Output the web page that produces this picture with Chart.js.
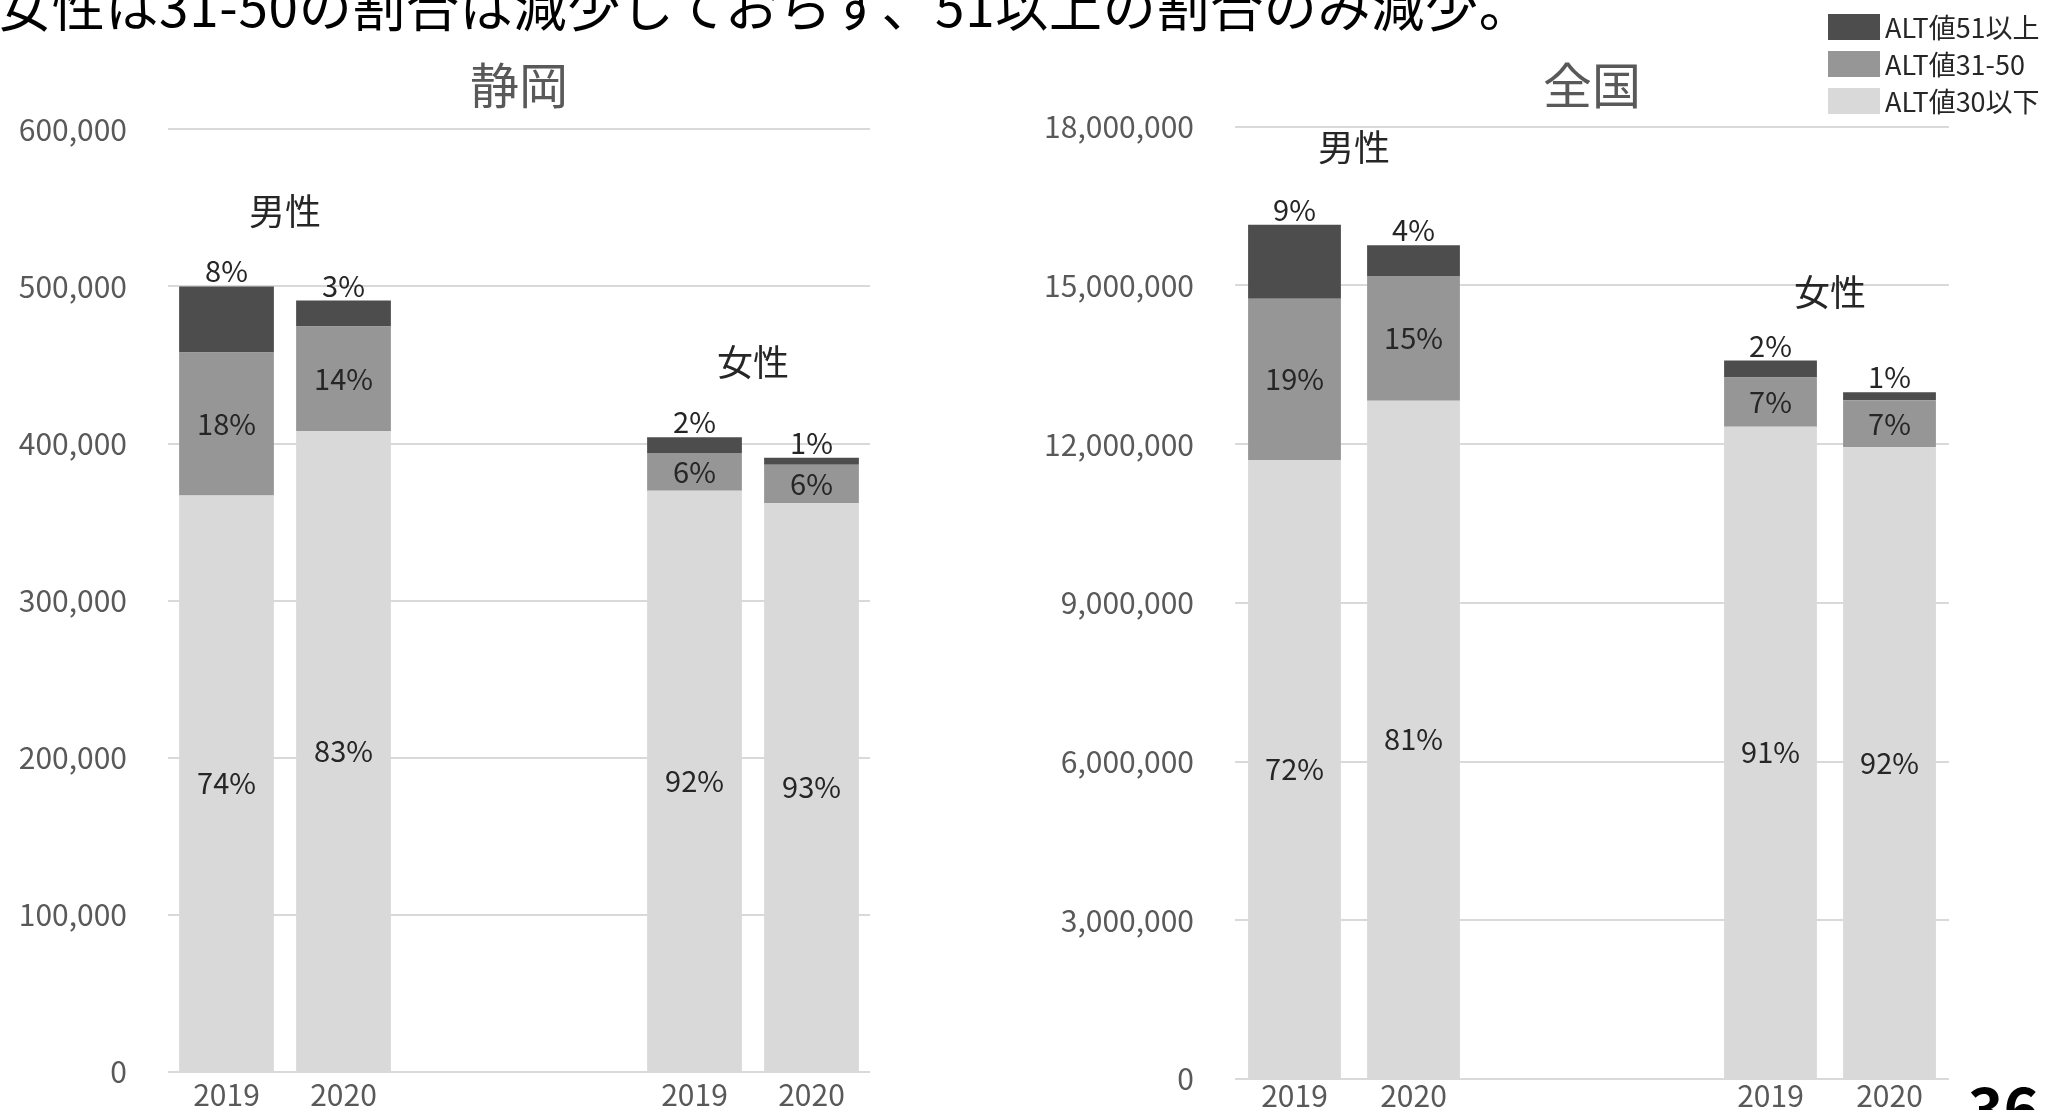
<!DOCTYPE html>
<html lang="ja">
<head>
<meta charset="utf-8">
<title>ALT値の分布 静岡・全国</title>
<script src="https://cdn.jsdelivr.net/npm/chart.js@4.4.1/dist/chart.umd.min.js"></script>
<style>
  html, body { margin: 0; padding: 0; width: 2051px; height: 1110px; overflow: hidden; background: #fff; }
  body { position: relative; font-family: "Noto Sans CJK JP", sans-serif; }
  .headline { position: absolute; left: -2px; top: -22px; font-size: 53px; line-height: 1; letter-spacing: 0.7px; color: #000; white-space: nowrap; z-index: 2; }
  #chart-shizuoka { position: absolute; left: 0; top: 0; }
  #chart-zenkoku { position: absolute; left: 1000px; top: 0; }
  .legend { position: absolute; left: 1828px; top: 8px; margin: 0; padding: 0; list-style: none; z-index: 2; }
  .legend li { height: 37px; display: flex; align-items: center; font-size: 27px; color: #262626; white-space: nowrap; }
  .legend .swatch { width: 52px; height: 26px; margin-right: 5px; }
  .page-no { position: absolute; left: 1968px; top: 1076px; font-size: 60px; font-weight: 700; line-height: 1; color: #000; }
</style>
</head>
<body>
<div class="headline">女性は31-50の割合は減少しておらず、51以上の割合のみ減少。</div>
<canvas id="chart-shizuoka" width="900" height="1140"></canvas>
<canvas id="chart-zenkoku" width="1051" height="1140"></canvas>
<ul class="legend" id="legend"></ul>
<div class="page-no">36</div>
<script>
const categories = ['2019', '2020', '', '', '2019', '2020'];
const seriesNames = ['ALT値30以下', 'ALT値31-50', 'ALT値51以上'];
const seriesColors = ['#d9d9d9', '#969696', '#4d4d4d'];
const groupNames = ['男性', '女性'];

// 静岡 (人数)
const shizuokaLow = [367000, 408000, null, null, 370000, 362000];
const shizuokaMid = [91000, 66500, null, null, 24000, 24500];
const shizuokaHigh = [42000, 16500, null, null, 10000, 4500];
const shizuokaLowPct = ['74%', '83%', '', '', '92%', '93%'];
const shizuokaMidPct = ['18%', '14%', '', '', '6%', '6%'];
const shizuokaHighPct = ['8%', '3%', '', '', '2%', '1%'];

// 全国 (人数)
const zenkokuLow = [11700000, 12820000, null, null, 12330000, 11940000];
const zenkokuMid = [3050000, 2360000, null, null, 930000, 890000];
const zenkokuHigh = [1400000, 580000, null, null, 320000, 150000];
const zenkokuLowPct = ['72%', '81%', '', '', '91%', '92%'];
const zenkokuMidPct = ['19%', '15%', '', '', '7%', '7%'];
const zenkokuHighPct = ['9%', '4%', '', '', '2%', '1%'];

Chart.defaults.font.family = '"Noto Sans CJK JP", sans-serif';

// percentages inside / on top of the stacks, plus 男性・女性 captions
const barLabels = {
  id: 'barLabels',
  afterDatasetsDraw(chart, args, opts) {
    const { ctx } = chart;
    const last = chart.data.datasets.length - 1;
    ctx.save();
    ctx.fillStyle = '#262626';
    ctx.textAlign = 'center';
    ctx.textBaseline = 'middle';
    ctx.font = '29px "Noto Sans CJK JP"';
    chart.data.datasets.forEach((ds, i) => {
      chart.getDatasetMeta(i).data.forEach((bar, j) => {
        const txt = ds.pctLabels[j];
        if (!txt) return;
        const { x, y, base } = bar.getProps(['x', 'y', 'base'], true);
        const ty = i === last ? y - opts.topGap : (y + base) / 2;
        ctx.fillText(txt, x, ty);
      });
    });
    ctx.font = '36px "Noto Sans CJK JP"';
    const xs = chart.scales.x;
    const ys = chart.scales.y;
    opts.groups.forEach(g => {
      const x = (xs.getPixelForValue(g.from) + xs.getPixelForValue(g.to)) / 2;
      ctx.fillText(g.text, x, ys.getPixelForValue(g.at));
    });
    ctx.restore();
  }
};

function makeChart(id, title, series, pct, yMax, yStep, lay) {
  return new Chart(document.getElementById(id), {
    type: 'bar',
    data: {
      labels: categories,
      datasets: series.map((data, i) => ({
        label: seriesNames[i],
        data: data,
        backgroundColor: seriesColors[i],
        borderWidth: 0,
        barPercentage: lay.barPct,
        categoryPercentage: 1,
        pctLabels: pct[i]
      }))
    },
    options: {
      responsive: false,
      animation: false,
      layout: { padding: { left: 0, right: lay.padRight, top: 0, bottom: lay.padBottom } },
      scales: {
        x: {
          stacked: true,
          grid: { display: false },
          border: { display: false },
          ticks: { color: '#595959', font: { size: 30 }, padding: lay.xPad, maxRotation: 0, autoSkip: false },
          afterFit(s) { s.height = 45; }
        },
        y: {
          stacked: true,
          min: 0,
          max: yMax,
          border: { display: false },
          grid: { color: '#d9d9d9', lineWidth: 2, drawTicks: false },
          ticks: {
            stepSize: yStep,
            color: '#595959',
            font: { size: 30 },
            padding: 41,
            callback: v => v.toLocaleString('en-US')
          },
          afterFit(s) { s.width = lay.axisWidth; }
        }
      },
      plugins: {
        legend: { display: false },
        tooltip: { enabled: false },
        title: {
          display: true,
          text: title,
          fullSize: false,
          color: '#595959',
          font: { size: 49, weight: 'normal' },
          padding: { top: 56, bottom: lay.titleBottom }
        },
        barLabels: { topGap: 15, groups: lay.groups }
      }
    },
    plugins: [barLabels]
  });
}

makeChart('chart-shizuoka', '静岡',
  [shizuokaLow, shizuokaMid, shizuokaHigh],
  [shizuokaLowPct, shizuokaMidPct, shizuokaHighPct],
  600000, 100000,
  {
    barPct: 0.81, axisWidth: 168, padRight: 30, padBottom: 23, titleBottom: 14.5, xPad: -3,
    groups: [
      { text: groupNames[0], from: 0, to: 1, at: 548000 },
      { text: groupNames[1], from: 4, to: 5, at: 452000 }
    ]
  });

makeChart('chart-zenkoku', '全国',
  [zenkokuLow, zenkokuMid, zenkokuHigh],
  [zenkokuLowPct, zenkokuMidPct, zenkokuHighPct],
  18000000, 3000000,
  {
    barPct: 0.78, axisWidth: 235, padRight: 102, padBottom: 16, titleBottom: 12, xPad: -9,
    groups: [
      { text: groupNames[0], from: 0, to: 1, at: 17620000 },
      { text: groupNames[1], from: 4, to: 5, at: 14880000 }
    ]
  });

// legend: top segment first, like the original
const legend = document.getElementById('legend');
seriesNames.slice().reverse().forEach((name, k) => {
  const i = seriesNames.length - 1 - k;
  const li = document.createElement('li');
  const sw = document.createElement('span');
  sw.className = 'swatch';
  sw.style.background = seriesColors[i];
  li.appendChild(sw);
  li.appendChild(document.createTextNode(name));
  legend.appendChild(li);
});
</script>
</body>
</html>
